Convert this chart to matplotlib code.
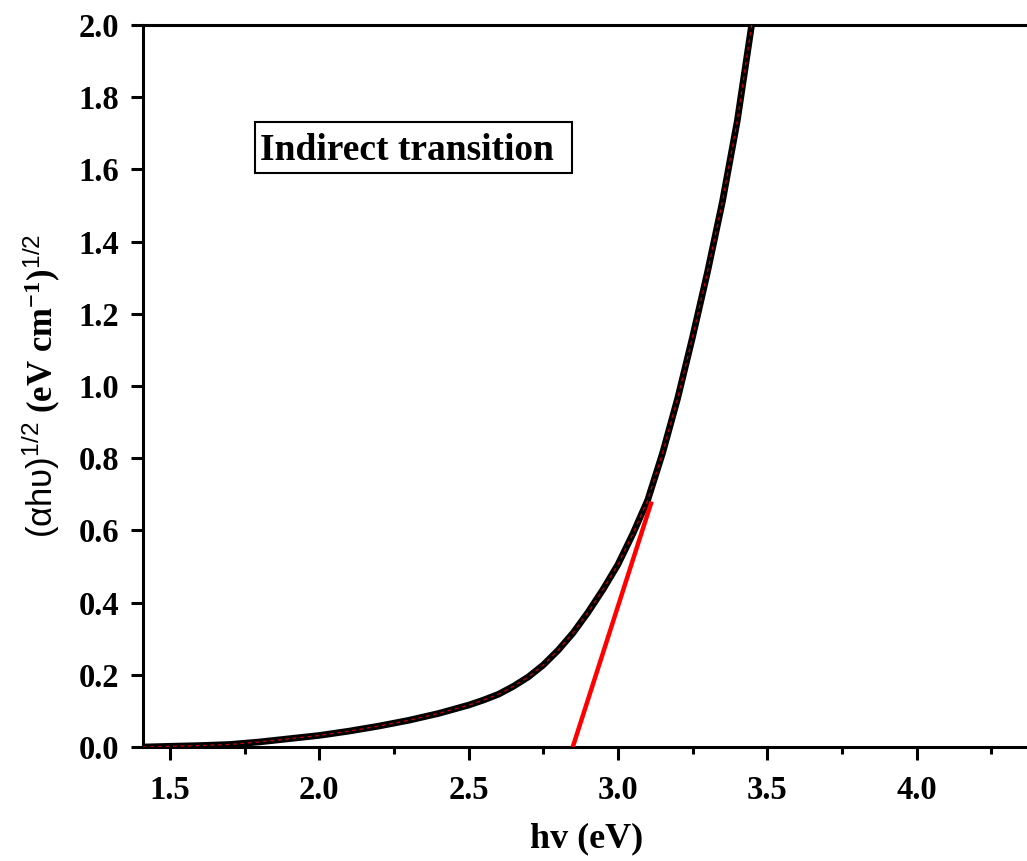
import matplotlib
matplotlib.use("Agg")
import matplotlib.pyplot as plt
from matplotlib.ticker import MultipleLocator
from matplotlib.patches import Rectangle

# data
hv = [1.41, 1.50, 1.60, 1.70, 1.80, 1.90, 2.00, 2.10, 2.20, 2.30, 2.40, 2.50,
      2.55, 2.60, 2.65, 2.70, 2.75, 2.80, 2.85, 2.90, 2.95, 3.00, 3.05, 3.10,
      3.15, 3.20, 3.25, 3.30, 3.35, 3.40, 3.447, 3.46]
ahv = [0.0, 0.002, 0.004, 0.007, 0.014, 0.023, 0.032, 0.044, 0.058, 0.074,
       0.093, 0.116, 0.130, 0.146, 0.168, 0.194, 0.227, 0.268, 0.316, 0.373,
       0.436, 0.505, 0.590, 0.684, 0.815, 0.965, 1.135, 1.315, 1.510, 1.735,
       1.995, 2.07]
fit_x = [2.849, 3.113]
fit_y = [0.0, 0.68]

xticks = [1.5, 2.0, 2.5, 3.0, 3.5, 4.0]
yticks = [0.0, 0.2, 0.4, 0.6, 0.8, 1.0, 1.2, 1.4, 1.6, 1.8, 2.0]

plt.rcParams['font.family'] = ['Liberation Serif', 'DejaVu Serif']
plt.rcParams['font.weight'] = 'bold'
plt.rcParams['mathtext.fontset'] = 'custom'
plt.rcParams['mathtext.rm'] = 'Liberation Serif:bold'
plt.rcParams['mathtext.bf'] = 'Liberation Serif:bold'
plt.rcParams['mathtext.sf'] = 'Liberation Sans:normal'
plt.rcParams['mathtext.it'] = 'Liberation Serif:bold'

fig = plt.figure(figsize=(10.27, 8.61), dpi=100)
ax = fig.add_axes([143/1027, 114/861, 887/1027, 722/861])

ax.plot(hv, ahv, color='black', lw=4.8, solid_capstyle='butt',
        solid_joinstyle='round', zorder=3)
ax.plot(hv, ahv, color='#cc0000', lw=0.9, dashes=(3, 3), zorder=4)
ax.plot(fit_x, fit_y, color='red', lw=3.2, solid_capstyle='butt', zorder=5)

ax.set_xlim(1.41, 4.38)
ax.set_ylim(0.0, 2.0)
ax.set_xticks(xticks)
ax.set_yticks(yticks)
ax.xaxis.set_minor_locator(MultipleLocator(0.25))
ax.set_xticklabels([f"{v:.1f}" for v in xticks])
ax.set_yticklabels([f"{v:.1f}" for v in yticks])

for s in ax.spines.values():
    s.set_linewidth(2.2)
ax.tick_params(axis='both', which='major', direction='out', length=9, width=2.2,
               labelsize=23.5, pad=8)
ax.tick_params(axis='x', which='major', pad=11)
ax.tick_params(axis='x', which='minor', direction='out', length=5, width=2.2)
ax.tick_params(top=False, right=False)

ax.set_xlabel('hv (eV)', fontsize=26, fontweight='bold', labelpad=12)
ax.set_ylabel(r'$\mathsf{(\alpha h\upsilon)^{1/2}}$ (eV cm$^{\mathbf{-1}}$)$^{\mathsf{1/2}}$',
              fontsize=25, fontweight='bold', labelpad=12)

ax.add_patch(Rectangle((0.1263, 0.795), 0.3574, 0.0707, transform=ax.transAxes,
                       fc='white', ec='black', lw=1.5, zorder=6))
ax.text(0.1319, 0.813, 'Indirect transition', transform=ax.transAxes,
        fontsize=27, fontweight='bold', ha='left', va='baseline', zorder=7)

fig.savefig('out.png', dpi=100)
